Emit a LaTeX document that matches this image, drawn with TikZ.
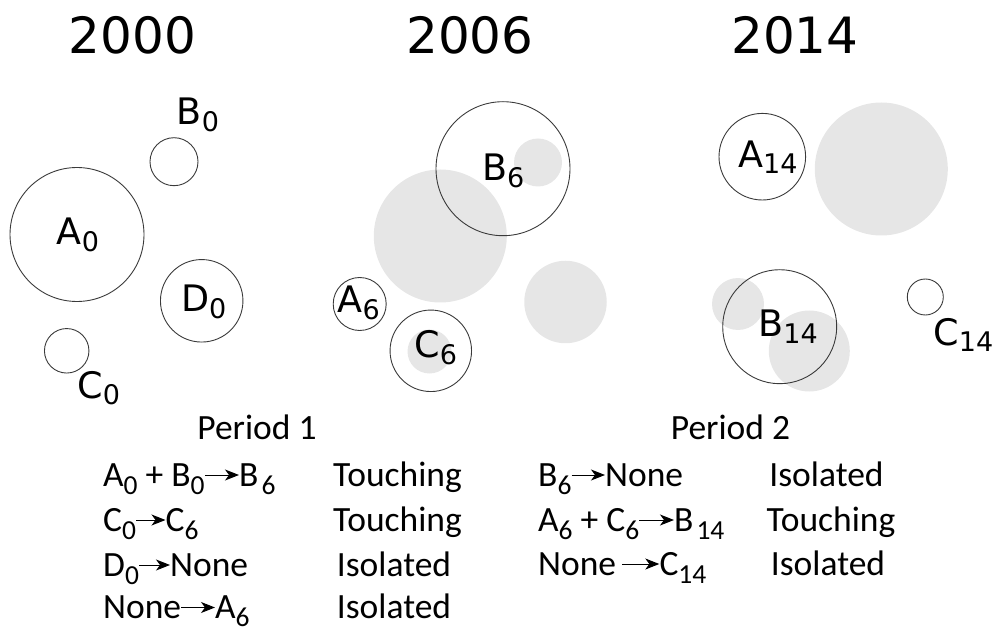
\documentclass[tikz,border=0pt]{standalone}
\usepackage{fontspec}
\setmainfont{Carlito}
\newfontfamily\verd{DejaVu Sans}
\usetikzlibrary{arrows.meta}
\definecolor{ghost}{HTML}{E6E6E6}
\definecolor{rim}{HTML}{3A3A3A}
\newcommand{\vsub}[2]{#1\raisebox{-6.5pt}{\fontsize{27}{27}\selectfont #2}}
\newcommand{\csub}[1]{\raisebox{-8pt}{\fontsize{27.5}{27.5}\selectfont #1}}
\begin{document}
\begin{tikzpicture}[x=1pt,y=-1pt,
 ring/.style={circle,draw=rim,line width=0.9pt,inner sep=0pt},
 shadow/.style={circle,fill=ghost,inner sep=0pt},
 yearlab/.style={font=\verd\fontsize{50}{50}\selectfont,anchor=base,inner sep=0pt},
 clab/.style={font=\verd\fontsize{36.5}{36.5}\selectfont,anchor=base,inner sep=0pt},
 txt/.style={font=\fontsize{35.5}{35.5}\selectfont,anchor=base west,inner sep=0pt},
 ctxt/.style={font=\fontsize{35.5}{35.5}\selectfont,anchor=base,inner sep=0pt},
 trans/.style={-{Stealth[length=14pt,width=11pt,inset=4pt]},line width=1pt}]
\useasboundingbox (0,0) rectangle (997,631);
% years
\node[yearlab] (y1) at (132.5,53.3) {2000};
\node[yearlab] (y2) at (470,53.3) {2006};
\node[yearlab] (y3) at (795,53.3) {2014};
% ghost circles (previous period)
\node[shadow,minimum size=133pt] (gA0) at (440.3,236) {};
\node[shadow,minimum size=48pt] (gB0) at (538,162.5) {};
\node[shadow,minimum size=82.5pt] (gD0) at (565.5,302) {};
\node[shadow,minimum size=44pt] (gC0) at (429.5,351.5) {};
\node[shadow,minimum size=133pt] (gB6) at (881.3,169) {};
\node[shadow,minimum size=52pt] (gA6) at (738,304) {};
\node[shadow,minimum size=81pt] (gC6) at (809.3,351) {};
% outlined circles
\node[ring,minimum size=134pt] (A0) at (77,234.5) {};
\node[ring,minimum size=48pt] (B0) at (174,161.7) {};
\node[ring,minimum size=82.5pt] (D0) at (201.7,300.8) {};
\node[ring,minimum size=44.5pt] (C0) at (66.7,350.8) {};
\node[ring,minimum size=134pt] (B6) at (503,168.7) {};
\node[ring,minimum size=53pt] (A6) at (359.7,304) {};
\node[ring,minimum size=81.5pt] (C6) at (430.8,350.8) {};
\node[ring,minimum size=86.6pt] (A14) at (762.3,156.7) {};
\node[ring,minimum size=114pt] (B14) at (779.7,326.7) {};
\node[ring,minimum size=36pt] (C14) at (925.3,297) {};
% circle labels
\node[clab] (lA0) at (78,245) {\vsub{A}{0}};
\node[clab] (lB0) at (198,125) {\vsub{B}{0}};
\node[clab] (lD0) at (203.7,311.7) {\vsub{D}{0}};
\node[clab] (lC0) at (98.7,398) {\vsub{C}{0}};
\node[clab] (lB6) at (503.3,180.7) {\vsub{B}{6}};
\node[clab] (lA6) at (358.8,312.7) {\vsub{A}{6}};
\node[clab] (lC6) at (435.8,357.7) {\vsub{C}{6}};
\node[clab] (lA14) at (767.8,167.3) {\vsub{A}{14}};
\node[clab] (lB14) at (788,336.7) {\vsub{B}{14}};
\node[clab] (lC14) at (963.3,345) {\vsub{C}{14}};
% period 1
\node[ctxt] (p1) at (257,439) {Period 1};
\node[txt] (r1a) at (103,486) {A\csub{0} + B\csub{0}};
\node[txt] (r1b) at (239,486) {B\hspace{3pt}\csub{6}};
\node[ctxt] (r1c) at (397.5,486) {Touching};
\node[txt] (r2a) at (103,531) {C\csub{0}};
\node[txt] (r2b) at (165.5,531) {C\csub{6}};
\node[ctxt] (r2c) at (397.5,531) {Touching};
\node[txt] (r3a) at (103,576) {D\csub{0}};
\node[txt] (r3b) at (170,576) {None};
\node[ctxt] (r3c) at (394,576) {Isolated};
\node[txt] (r4a) at (103,618.5) {None};
\node[txt] (r4b) at (215,618.5) {A\csub{6}};
\node[ctxt] (r4c) at (394,618.5) {Isolated};
\draw[trans] ([yshift=11pt]r1a.base east) -- ([yshift=11pt]r1b.base west);
\draw[trans] ([yshift=11pt]r2a.base east) -- ([yshift=11pt]r2b.base west);
\draw[trans] ([yshift=11pt]r3a.base east) -- ([yshift=11pt]r3b.base west);
\draw[trans] ([yshift=11pt]r4a.base east) -- ([yshift=11pt]r4b.base west);
% period 2
\node[ctxt] (p2) at (730.5,439) {Period 2};
\node[txt] (s1a) at (538,486) {B\csub{6}};
\node[txt] (s1b) at (605,486) {None};
\node[ctxt] (s1c) at (826.5,486) {Isolated};
\node[txt] (s2a) at (538,531) {A\csub{6} + C\csub{6}};
\node[txt] (s2b) at (674,531) {B\hspace{3pt}\csub{14}};
\node[ctxt] (s2c) at (831,531) {Touching};
\node[txt] (s3a) at (538,575) {None};
\node[txt] (s3b) at (659.3,575) {C\csub{14}};
\node[ctxt] (s3c) at (828,575) {Isolated};
\draw[trans] ([yshift=11pt]s1a.base east) -- ([yshift=11pt]s1b.base west);
\draw[trans] ([yshift=11pt]s2a.base east) -- ([yshift=11pt]s2b.base west);
\draw[trans,shorten <=6pt] ([yshift=11pt]s3a.base east) -- ([yshift=11pt]s3b.base west);
\end{tikzpicture}
\end{document}
